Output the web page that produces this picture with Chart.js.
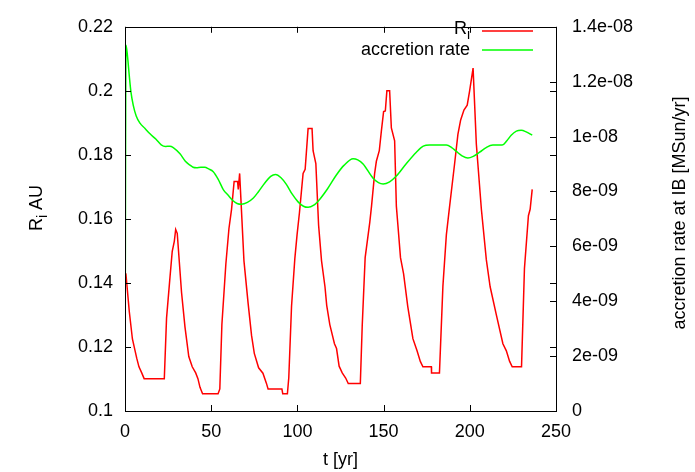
<!DOCTYPE html>
<html>
<head>
<meta charset="utf-8">
<script src="https://cdn.jsdelivr.net/npm/chart.js@4.4.0/dist/chart.umd.min.js"></script>
<style>
  html, body { margin: 0; padding: 0; background: #fff; }
</style>
</head>
<body>
<canvas id="chart" width="695" height="472"></canvas>
<script>
// inner boundary radius R_i [AU] vs time [yr]
const radiusTimes = [0.5, 2.5, 4.3, 6.8, 8.1, 9.7, 11.1, 22.8, 24.1, 26.1, 27.4, 28.6, 29.4, 30.3,
    32.8, 34.8, 37.0, 39.0, 41.0, 42.3, 43.5, 45.0, 54.0, 55.0, 56.2, 58.5, 60.3, 61.8, 63.3, 65.3,
    65.7, 66.5, 67.8, 69.0, 71.4, 73.4, 75.0, 77.5, 80.0, 82.0, 83.0, 91.0, 91.5, 94.2, 95.0, 96.6,
    98.5, 99.8, 101.2, 103.3, 104.5, 106.2, 108.5, 109.1, 110.7, 112.3, 114.0, 116.0, 117.0, 118.8,
    121.5, 122.7, 124.2, 126.0, 128.0, 129.5, 136.5, 137.6, 139.3, 142.0, 143.0, 144.8, 145.8, 147.5,
    148.7, 150.0, 151.0, 151.9, 153.5, 154.5, 156.4, 157.4, 158.3, 159.8, 161.6, 164.0, 167.0, 169.4,
    171.3, 172.8, 177.7, 177.8, 182.4, 184.4, 186.4, 188.3, 191.2, 193.1, 194.7, 196.6, 198.5, 199.9,
    201.9, 203.8, 206.7, 209.6, 211.8, 215.4, 219.2, 221.2, 223.1, 224.6, 230.0, 231.7, 234.0, 235.0,
    236.2];
const radiusValues = [0.143, 0.131, 0.1225, 0.1165, 0.1138, 0.1119, 0.1101, 0.1101, 0.129, 0.1418,
    0.1499, 0.153, 0.1567, 0.1555, 0.137, 0.1262, 0.117, 0.1138, 0.1119, 0.1101, 0.1074, 0.1054,
    0.1054, 0.1069, 0.127, 0.1459, 0.157, 0.163, 0.1717, 0.1717, 0.1692, 0.1742, 0.160, 0.1469,
    0.1337, 0.1236, 0.118, 0.1135, 0.1118, 0.1087, 0.1069, 0.1069, 0.1054, 0.1054, 0.1104, 0.1327,
    0.1475, 0.155, 0.162, 0.1742, 0.1755, 0.1882, 0.1882, 0.1813, 0.1773, 0.158, 0.1469, 0.1388,
    0.133, 0.127, 0.121, 0.1195, 0.114, 0.1119, 0.1103, 0.1086, 0.1086, 0.1266, 0.1479, 0.159,
    0.164, 0.1742, 0.178, 0.1813, 0.1874, 0.1935, 0.1937, 0.200, 0.200, 0.1884, 0.1844, 0.164,
    0.158, 0.1479, 0.1428, 0.1327, 0.1226, 0.1188, 0.1155, 0.1138, 0.1138, 0.1119, 0.1119, 0.139,
    0.155, 0.164, 0.1773, 0.1864, 0.1909, 0.194, 0.1955, 0.200, 0.2071, 0.1833, 0.1631, 0.1472,
    0.1388, 0.130, 0.121, 0.1188, 0.1155, 0.1138, 0.1138, 0.1445, 0.161, 0.163, 0.1692];

// accretion rate at inner boundary [MSun/yr]
const rateTimes = [0, 0.6, 1.5, 2.5, 3.5, 4.8, 6.5, 8.7, 11.5, 14.5, 18, 21, 23.5, 26, 28, 31.9,
    35, 37.7, 39.5, 41.5, 44, 46.3, 48.5, 51.2, 54, 57, 60, 62.7, 65, 67.6, 71, 74.3, 77.5, 81.1,
    84.5, 87.3, 90.5, 93.7, 97, 100.4, 103.5, 106.2, 109.5, 113, 117.5, 122.6, 127, 132.3, 135,
    138.1, 143.9, 147, 149.7, 153.5, 157.4, 163, 169, 173, 176.7, 186.4, 189.5, 192.2, 195.5, 198.9,
    202, 205.7, 209.5, 213.4, 218.8, 221.5, 224, 227, 229.8, 233, 236.2];
const rateValues = [0, 13.33e-9, 12.9e-9, 12.2e-9, 11.6e-9, 11.14e-9, 10.75e-9, 10.49e-9, 10.3e-9,
    10.1e-9, 9.9e-9, 9.7e-9, 9.64e-9, 9.65e-9, 9.6e-9, 9.37e-9, 9.1e-9, 8.96e-9, 8.88e-9, 8.86e-9,
    8.88e-9, 8.88e-9, 8.82e-9, 8.72e-9, 8.45e-9, 8.07e-9, 7.85e-9, 7.66e-9, 7.56e-9, 7.53e-9, 7.6e-9,
    7.75e-9, 8.0e-9, 8.31e-9, 8.55e-9, 8.62e-9, 8.5e-9, 8.25e-9, 7.9e-9, 7.62e-9, 7.46e-9, 7.42e-9,
    7.5e-9, 7.72e-9, 8.1e-9, 8.6e-9, 8.95e-9, 9.19e-9, 9.15e-9, 9.0e-9, 8.48e-9, 8.32e-9, 8.27e-9,
    8.35e-9, 8.56e-9, 9.0e-9, 9.43e-9, 9.65e-9, 9.69e-9, 9.69e-9, 9.6e-9, 9.46e-9, 9.3e-9, 9.22e-9,
    9.28e-9, 9.43e-9, 9.6e-9, 9.69e-9, 9.69e-9, 9.85e-9, 10.05e-9, 10.2e-9, 10.23e-9, 10.16e-9,
    10.05e-9];

const xTickValues = [0, 50, 100, 150, 200, 250];
const radiusTickValues = [0.1, 0.12, 0.14, 0.16, 0.18, 0.2, 0.22];
const radiusTickLabels = ['0.1', '0.12', '0.14', '0.16', '0.18', '0.2', '0.22'];
const rateTickValues = [0, 2e-9, 4e-9, 6e-9, 8e-9, 1e-8, 1.2e-8, 1.4e-8];
const rateTickLabels = ['0', '2e-09', '4e-09', '6e-09', '8e-09', '1e-08', '1.2e-08', '1.4e-08'];

const FONT = '"Liberation Sans", Arial, sans-serif';
const RED = '#ff0000';
const GREEN = '#00ff00';

// draws text made of [text, isSubscript] parts
function drawParts(ctx, parts, x, y, align) {
    const widths = parts.map(p => {
        ctx.font = (p[1] ? '14px ' : '18px ') + FONT;
        return ctx.measureText(p[0]).width;
    });
    const total = widths.reduce((a, b) => a + b, 0);
    let cx = x;
    if (align === 'right') cx = x - total;
    if (align === 'center') cx = x - total / 2;
    ctx.textAlign = 'left';
    ctx.textBaseline = 'middle';
    parts.forEach((p, i) => {
        ctx.font = (p[1] ? '14px ' : '18px ') + FONT;
        ctx.fillText(p[0], cx, p[1] ? y + 6 : y);
        cx += widths[i];
    });
}

const gnuplotLook = {
    id: 'gnuplotLook',
    afterDatasetsDraw(chart) {
        const ctx = chart.ctx;
        const a = chart.chartArea;
        const s = chart.scales;
        const tl = 6;
        ctx.save();
        ctx.strokeStyle = '#000';
        ctx.lineWidth = 1;
        ctx.beginPath();
        s.x.ticks.forEach(t => {
            const px = Math.round(s.x.getPixelForValue(t.value)) + 0.5;
            ctx.moveTo(px, a.bottom); ctx.lineTo(px, a.bottom - tl);
            ctx.moveTo(px, a.top); ctx.lineTo(px, a.top + tl);
        });
        s.y.ticks.forEach(t => {
            const py = Math.round(s.y.getPixelForValue(t.value)) + 0.5;
            ctx.moveTo(a.left, py); ctx.lineTo(a.left + tl, py);
            ctx.moveTo(a.right, py); ctx.lineTo(a.right - tl, py);
        });
        s.y2.ticks.forEach(t => {
            const py = Math.round(s.y2.getPixelForValue(t.value)) + 0.5;
            ctx.moveTo(a.right, py); ctx.lineTo(a.right - tl, py);
        });
        ctx.stroke();
        ctx.strokeRect(Math.round(a.left) + 0.5, Math.round(a.top) + 0.5,
            Math.round(a.right - a.left), Math.round(a.bottom - a.top));

        // legend
        ctx.fillStyle = '#000';
        drawParts(ctx, [['R', false], ['i', true]], 470, 29, 'right');
        drawParts(ctx, [['accretion rate', false]], 470, 50, 'right');
        ctx.lineWidth = 1.5;
        ctx.strokeStyle = RED;
        ctx.beginPath(); ctx.moveTo(482, 31); ctx.lineTo(533, 31); ctx.stroke();
        ctx.strokeStyle = GREEN;
        ctx.beginPath(); ctx.moveTo(482, 50); ctx.lineTo(533, 50); ctx.stroke();

        // axis titles
        drawParts(ctx, [['t [yr]', false]], (a.left + a.right) / 2, 460, 'center');
        ctx.save();
        ctx.translate(37, 208);
        ctx.rotate(-Math.PI / 2);
        drawParts(ctx, [['R', false], ['i', true], [' AU', false]], 0, 0, 'center');
        ctx.restore();
        ctx.save();
        ctx.translate(680, 213);
        ctx.rotate(-Math.PI / 2);
        drawParts(ctx, [['accretion rate at IB [MSun/yr]', false]], 0, 0, 'center');
        ctx.restore();
        ctx.restore();
    }
};

const tickFont = { family: FONT, size: 18 };
const hiddenGrid = { display: true, drawOnChartArea: false, drawTicks: false };

new Chart(document.getElementById('chart'), {
    type: 'line',
    data: {
        datasets: [{
            label: 'R_i',
            data: radiusTimes.map((t, i) => ({ x: t, y: radiusValues[i] })),
            yAxisID: 'y',
            borderColor: RED,
            borderWidth: 1.5,
            pointRadius: 0,
            tension: 0,
            order: 2
        }, {
            label: 'accretion rate',
            data: rateTimes.map((t, i) => ({ x: t, y: rateValues[i] })),
            yAxisID: 'y2',
            borderColor: GREEN,
            borderWidth: 1.5,
            pointRadius: 0,
            cubicInterpolationMode: 'monotone',
            order: 1
        }]
    },
    options: {
        responsive: false,
        devicePixelRatio: 1,
        animation: false,
        layout: { padding: { top: 16, left: 0, right: 0, bottom: 0 } },
        plugins: { legend: { display: false }, tooltip: { enabled: false } },
        scales: {
            x: {
                type: 'linear', min: 0, max: 250,
                grid: hiddenGrid, border: { display: false },
                afterBuildTicks: sc => { sc.ticks = xTickValues.map(v => ({ value: v })); },
                afterFit: sc => { sc.height = 61; },
                ticks: { color: '#000', font: tickFont, padding: 10, maxRotation: 0, autoSkip: false }
            },
            y: {
                type: 'linear', position: 'left', min: 0.1, max: 0.22,
                grid: hiddenGrid, border: { display: false },
                afterBuildTicks: sc => { sc.ticks = radiusTickValues.map(v => ({ value: v })); },
                afterFit: sc => { sc.width = 125; },
                ticks: { color: '#000', font: tickFont, padding: 12, autoSkip: false,
                    callback: (v, i) => radiusTickLabels[i] }
            },
            y2: {
                type: 'linear', position: 'right', min: 0, max: 1.4e-8,
                grid: hiddenGrid, border: { display: false },
                afterBuildTicks: sc => { sc.ticks = rateTickValues.map(v => ({ value: v })); },
                afterFit: sc => { sc.width = 139; },
                ticks: { color: '#000', font: tickFont, padding: 16, autoSkip: false,
                    callback: (v, i) => rateTickLabels[i] }
            }
        }
    },
    plugins: [gnuplotLook]
});
</script>
</body>
</html>
